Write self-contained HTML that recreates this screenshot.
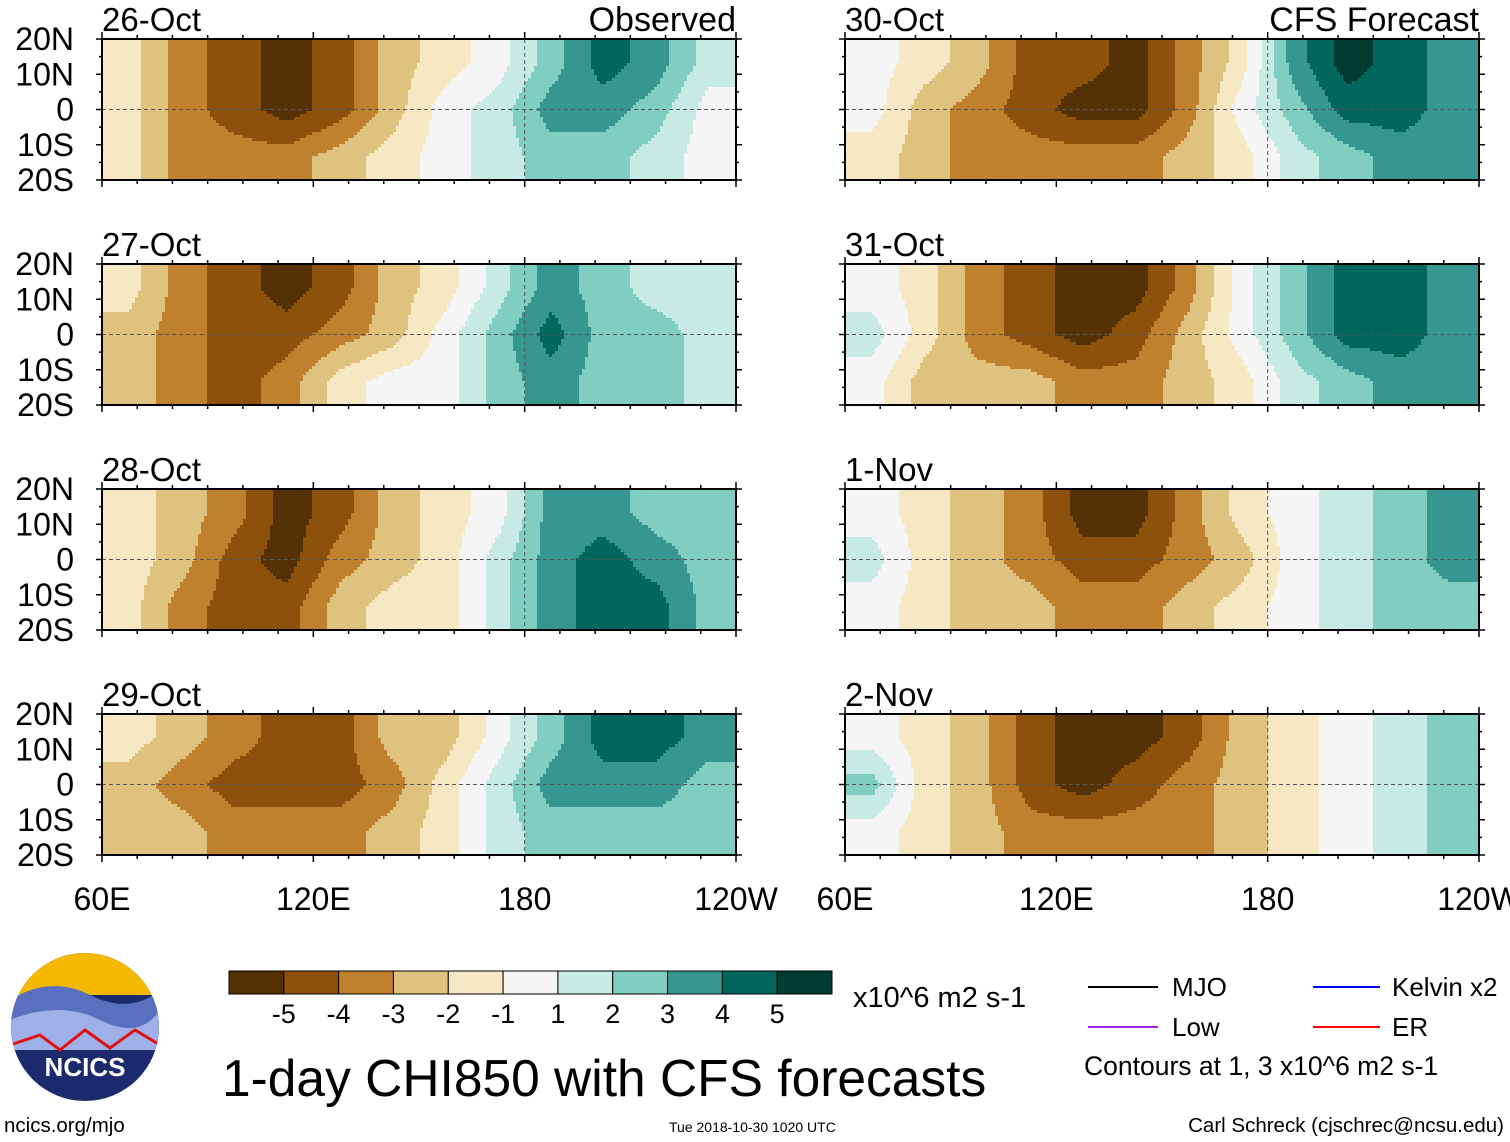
<!DOCTYPE html>
<html><head><meta charset="utf-8">
<style>
body{margin:0;background:#fff;font-family:"Liberation Sans",sans-serif;}
svg{display:block}
text{font-family:"Liberation Sans",sans-serif;fill:#000}
</style></head>
<body>
<svg id="fig" width="1510" height="1142" viewBox="0 0 1510 1142">
<g id="panels"></g>
<g id="colorbar"></g>
<text x="853" y="1007" font-size="29">x10^6 m2 s-1</text>
<text x="222" y="1096" font-size="51.5">1-day CHI850 with CFS forecasts</text>
<g>
<line x1="1088" y1="987" x2="1158" y2="987" stroke="#000" stroke-width="2"/>
<text x="1172" y="996" font-size="26">MJO</text>
<line x1="1313" y1="987" x2="1380" y2="987" stroke="#0000ff" stroke-width="2"/>
<text x="1392" y="996" font-size="26">Kelvin x2</text>
<line x1="1088" y1="1027" x2="1158" y2="1027" stroke="#a020f0" stroke-width="2"/>
<text x="1172" y="1036" font-size="26">Low</text>
<line x1="1313" y1="1027" x2="1380" y2="1027" stroke="#ff0000" stroke-width="2"/>
<text x="1392" y="1036" font-size="26">ER</text>
<text x="1084" y="1075" font-size="26.5">Contours at 1, 3 x10^6 m2 s-1</text>
</g>
<g>
<clipPath id="lc"><circle cx="85" cy="1027" r="74"/></clipPath>
<g clip-path="url(#lc)">
<rect x="10" y="950" width="150" height="160" fill="#1a2a6c"/>
<rect x="10" y="950" width="150" height="45" fill="#f5b800"/>
<path d="M10 1000 Q50 975 90 995 T160 990 L160 1040 L10 1040Z" fill="#5a6fc0"/>
<path d="M10 1020 Q60 1000 100 1020 T160 1010 L160 1050 L10 1050Z" fill="#9fb0e8"/>
<path d="M10 1045 L40 1035 L60 1050 L85 1030 L110 1048 L135 1030 L160 1045" fill="none" stroke="#e01010" stroke-width="3"/>
</g>
<text x="85" y="1076" font-size="26" font-weight="bold" text-anchor="middle" style="fill:#fff">NCICS</text>
</g>
<text x="4" y="1132" font-size="20.5">ncics.org/mjo</text>
<text x="669" y="1132" font-size="14">Tue 2018-10-30 1020 UTC</text>
<text x="1504" y="1132" font-size="20.5" text-anchor="end">Carl Schreck (cjschrec@ncsu.edu)</text>
</svg>
<script>
const colors=["#543005","#8c510a","#bf812d","#dfc27d","#f6e8c3","#f5f5f5","#c7eae5","#80cdc1","#35978f","#01665e","#003c30"];
const cbLabels=["-5","-4","-3","-2","-1","1","2","3","4","5"];
const dates=["26-Oct","27-Oct","28-Oct","29-Oct","30-Oct","31-Oct","1-Nov","2-Nov"];
const lonBins=[60,75,90,105,120,135,150,165,180,195,210,225];
const latCenters=[13.5,0,-13.5];
const p0n=[-1,-3,-4,-5,-4,-2,-1,0,2,4,3,1], p0m=[-1,-3,-4,-5,-4,-2,0,1,3,3,2,0], p0s=[-1,-3,-3,-3,-2,-1,0,1,2,2,1,0];
const p1n=[-1,-3,-4,-5,-4,-2,-1,1,3,2,1,1], p1m=[-2,-3,-4,-4,-3,-2,0,2,4,2,2,1], p1s=[-2,-3,-4,-3,-1,0,0,2,3,2,2,1];
const p2n=[-1,-2,-3,-5,-4,-2,-1,0,3,3,2,2], p2m=[-1,-2,-4,-5,-3,-2,-1,1,3,4,3,2], p2s=[-1,-3,-4,-4,-2,-1,-1,1,3,4,4,2];
const p3n=[-1,-2,-3,-4,-4,-2,-2,0,2,4,4,3], p3m=[-2,-3,-4,-4,-4,-3,-1,1,3,3,3,2], p3s=[-2,-2,-3,-3,-3,-2,-1,1,2,2,2,2];
const p4n=[0,-1,-2,-4,-4,-5,-3,-1,3,5,4,3], p4m=[0,-2,-3,-4,-5,-5,-3,0,2,4,4,3], p4s=[-1,-2,-3,-3,-3,-3,-2,-1,1,2,3,3];
const p5n=[0,-1,-3,-4,-5,-5,-3,0,2,4,4,3], p5m=[1,-1,-3,-4,-5,-4,-2,0,2,4,4,3], p5s=[0,-2,-2,-2,-3,-3,-2,-1,1,2,3,3];
const p6n=[0,-1,-2,-3,-5,-5,-3,-1,0,1,2,3], p6m=[1,-1,-2,-3,-4,-4,-3,-2,0,1,2,3], p6s=[0,-1,-2,-2,-3,-3,-2,-1,0,1,2,2];
const p7n=[0,-1,-2,-4,-5,-5,-4,-2,-1,0,1,2], p7m=[2,-1,-2,-4,-5,-4,-3,-2,-1,0,1,2], p7s=[0,-1,-2,-3,-3,-3,-3,-2,-1,0,1,2];
const fields=[[p0n,p0m,p0s],[p1n,p1m,p1s],[p2n,p2m,p2s],[p3n,p3m,p3s],[p4n,p4m,p4s],[p5n,p5m,p5s],[p6n,p6m,p6s],[p7n,p7m,p7s]];
const latTicks=["20N","10N","0","10S","20S"];
const lonTicks=["60E","120E","180","120W"];

const NS="http://www.w3.org/2000/svg";
function mk(tag,attrs,parent){const e=document.createElementNS(NS,tag);for(const k in attrs)e.setAttribute(k,attrs[k]);parent.appendChild(e);return e;}
function colorIdx(v){return Math.max(0,Math.min(10,Math.round(v)+5));}
const W=634,H=141;
const colX=[102,845], rowY=[39,264,489,714];
const panelsG=document.getElementById('panels');
function xs(lon,x0){return x0+(lon-60)/180*W;}
function ys(lat,y0){return y0+(20-lat)/40*H;}
function interp(f,lon,lat){
  const cx=lonBins.map(b=>b+7.5);
  let i=0;while(i<cx.length-2&&lon>cx[i+1])i++;
  let tx=(lon-cx[i])/(cx[i+1]-cx[i]);tx=Math.max(0,Math.min(1,tx));
  let j=0;if(lat<latCenters[1])j=1;
  let ty=(latCenters[j]-lat)/(latCenters[j]-latCenters[j+1]);ty=Math.max(0,Math.min(1,ty));
  const a=f[j][i]*(1-tx)+f[j][i+1]*tx, b=f[j+1][i]*(1-tx)+f[j+1][i+1]*tx;
  return a*(1-ty)+b*ty;
}

dates.forEach((d,pi)=>{
  const col=pi<4?0:1,row=pi%4,x0=colX[col],y0=rowY[row];
  const g=mk('g',{},panelsG);
  
  
  const fg=mk('g',{'shape-rendering':'crispEdges'},g);
  const step=3;
  const xsList=[];for(let px=0;px<W;px+=step)xsList.push(px);
  for(let py=0;py<H;py+=step){
    const lat=20-(py+step/2)/H*40;
    let runStart=0,runC=-1;
    const flush=(end)=>{
      const r=mk('rect',{x:x0+runStart,y:y0+py,width:end-runStart,height:Math.min(step,H-py),fill:colors[runC]},fg);
      
      
    };
    xsList.forEach(px=>{
      const lon=60+(px+step/2)/W*180;
      const c=colorIdx(interp(fields[pi],lon,lat));
      if(c!==runC){ if(runC>=0)flush(px); runStart=px; runC=c; }
    });
    flush(W);
  }
  mk('line',{x1:x0,y1:ys(0,y0),x2:x0+W,y2:ys(0,y0),stroke:'#555','stroke-dasharray':'4,3','stroke-width':1},g);
  mk('line',{x1:xs(180,x0),y1:y0,x2:xs(180,x0),y2:y0+H,stroke:'#555','stroke-dasharray':'4,3','stroke-width':1},g);
  mk('rect',{x:x0,y:y0,width:W,height:H,fill:'none',stroke:'#000','stroke-width':2},g);
  for(let lon=60;lon<=240;lon+=10){
    const x=xs(lon,x0),L=(lon%60==0)?7:4;
    mk('line',{x1:x,y1:y0,x2:x,y2:y0-L,stroke:'#000','stroke-width':1.5},g);
    mk('line',{x1:x,y1:y0+H,x2:x,y2:y0+H+L,stroke:'#000','stroke-width':1.5},g);
  }
  for(let lat=-20;lat<=20;lat+=5){
    const y=ys(lat,y0),L=(lat%10==0)?6:3;
    mk('line',{x1:x0,y1:y,x2:x0-L,y2:y,stroke:'#000','stroke-width':1.5},g);
    mk('line',{x1:x0+W,y1:y,x2:x0+W+L,y2:y,stroke:'#000','stroke-width':1.5},g);
  }
  const t=mk('text',{x:x0,y:y0-8,'font-size':33},g);t.textContent=d;
  
  
  if(pi==0||pi==4){const s=mk('text',{x:x0+W,y:y0-8,'font-size':34,'text-anchor':'end'},g);s.textContent=pi==0?'Observed':'CFS Forecast';
    
    }
  if(col==0){latTicks.forEach((lt,i)=>{const tt=mk('text',{x:74,y:y0+i*H/4+11,'font-size':32,'text-anchor':'end'},g);tt.textContent=lt;
    
    });}
  if(row==3){lonTicks.forEach((lt,i)=>{const tt=mk('text',{x:x0+i*W/3,y:910,'font-size':32,'text-anchor':'middle'},g);tt.textContent=lt;
    
    });}
});

const cb=document.getElementById('colorbar');
const cbx=229,cbw=603/11;
colors.forEach((c,i)=>{const r=mk('rect',{x:cbx+i*cbw,y:971,width:cbw,height:23,fill:c,stroke:'#000','stroke-width':1},cb);
  
  });
cbLabels.forEach((l,i)=>{const t=mk('text',{x:cbx+(i+1)*cbw,y:1023,'font-size':27,'text-anchor':'middle'},cb);t.textContent=l;
  
  });
</script>
</body></html>
